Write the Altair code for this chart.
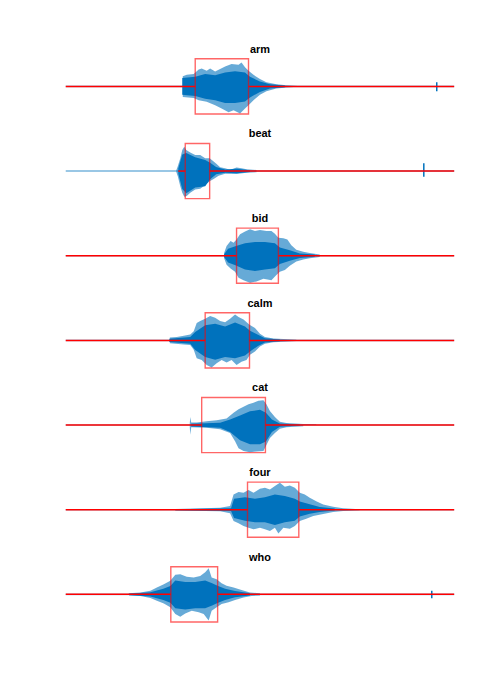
import altair as alt
import pandas as pd

# ---------------- data (time in ms, amplitude normalised to the axis limits) ----------------
CLIP_MS = 780
WORDS = ["arm", "beat", "bid", "calm", "cat", "four", "who"]

ARM_UP_T = [235, 243, 257, 267, 273, 283, 290, 300, 310, 320, 333, 347, 353, 360, 367, 377, 390, 403, 423, 443, 466]
ARM_UP = [.37, .42, .45, .61, .65, .57, .65, .54, .63, .72, .81, .78, .87, .69, .57, .42, .27, .15, .08, .04, .01]
ARM_LO_T = [235, 257, 267, 283, 300, 313, 327, 337, 350, 360, 367, 377, 390, 403, 423, 443, 466]
ARM_LO = [-.38, -.42, -.5, -.56, -.68, -.8, -.94, -.86, -.98, -.8, -.68, -.5, -.3, -.18, -.08, -.04, -.01]
ARM_CORE_T = [234, 260, 280, 300, 320, 340, 360, 370, 390, 410, 440]
ARM_CORE_HI = [.3, .35, .45, .4, .5, .55, .5, .35, .18, .08, .03]
ARM_CORE_LO = [-.3, -.35, -.45, -.5, -.6, -.6, -.55, -.4, -.2, -.08, -.03]

BEAT_UP_T = [222, 225, 230, 234, 238, 242, 250, 260, 270, 280, 289, 297, 303, 310, 320, 330, 343, 353, 363, 383]
BEAT_UP = [.03, .17, .46, .76, .88, .76, .67, .58, .58, .46, .46, .35, .26, .14, .1, .05, .13, .1, .07, .04]
BEAT_LO_T = [222, 225, 230, 234, 238, 243, 250, 260, 270, 277, 289, 297, 307, 320, 343, 363, 383]
BEAT_LO = [-.03, -.19, -.55, -.79, -.93, -.9, -.79, -.67, -.64, -.55, -.37, -.29, -.17, -.1, -.11, -.06, -.04]
BEAT_CORE_T = [226, 234, 242, 260, 280, 290, 302, 320, 344, 370]
BEAT_CORE_HI = [.1, .6, .65, .5, .4, .3, .15, .06, .08, .03]
BEAT_CORE_LO = [-.1, -.65, -.8, -.6, -.55, -.3, -.12, -.06, -.08, -.03]

BID_UP_T = [318, 323, 331, 337, 343, 350, 360, 370, 380, 390, 403, 413, 420, 427, 437, 445, 453, 463, 477, 490, 510]
BID_UP = [.1, .35, .53, .47, .59, .78, .88, .96, .9, .93, .9, .9, .8, .65, .63, .59, .38, .22, .14, .1, .04]
BID_LO_T = [318, 323, 331, 340, 347, 357, 370, 383, 397, 413, 423, 430, 440, 450, 463, 477, 490, 510]
BID_LO = [-.09, -.33, -.46, -.58, -.8, -.89, -.98, -.93, -.83, -.89, -.7, -.58, -.52, -.36, -.21, -.14, -.09, -.05]
BID_CORE_T = [318, 326, 342, 360, 380, 400, 420, 430, 450, 470, 500]
BID_CORE_HI = [.05, .25, .35, .45, .5, .5, .45, .3, .2, .08, .04]
BID_CORE_LO = [-.05, -.25, -.35, -.5, -.55, -.5, -.45, -.3, -.18, -.08, -.04]

CALM_UP_T = [209, 223, 237, 250, 257, 263, 270, 280, 290, 300, 310, 320, 330, 340, 347, 357, 369, 380, 390, 400, 417, 437, 463]
CALM_UP = [.1, .12, .17, .21, .33, .63, .7, .78, .88, .82, .7, .66, .78, .94, .85, .76, .57, .45, .24, .12, .07, .05, .02]
CALM_LO_T = [209, 237, 250, 257, 263, 273, 283, 293, 303, 313, 323, 333, 343, 353, 363, 370, 380, 390, 400, 417, 437, 463]
CALM_LO = [-.1, -.15, -.17, -.34, -.65, -.71, -.89, -.98, -.83, -.71, -.8, -.71, -.89, -.77, -.71, -.52, -.4, -.22, -.12, -.07, -.05, -.02]
CALM_CORE_T = [208, 250, 260, 280, 300, 320, 340, 360, 370, 386, 400, 430]
CALM_CORE_HI = [.06, .12, .3, .55, .6, .5, .65, .5, .35, .2, .08, .03]
CALM_CORE_LO = [-.06, -.12, -.35, -.6, -.7, -.6, -.65, -.55, -.4, -.2, -.08, -.03]

CAT_UP_T = [249, 250, 252, 263, 283, 303, 323, 337, 347, 357, 367, 377, 387, 397, 403, 410, 420, 430, 443, 477, 503]
CAT_UP = [.05, .29, .09, .09, .14, .17, .24, .45, .57, .66, .75, .81, .88, .9, .75, .51, .29, .12, .07, .04, .03]
CAT_LO_T = [249, 250, 252, 283, 310, 330, 340, 347, 357, 370, 383, 397, 403, 410, 420, 430, 443, 477]
CAT_LO = [-.05, -.35, -.08, -.1, -.15, -.29, -.59, -.84, -.94, -.99, -.96, -.94, -.72, -.47, -.29, -.13, -.08, -.04]
CAT_CORE_T = [252, 310, 330, 350, 370, 390, 402, 414, 430, 470]
CAT_CORE_HI = [.05, .08, .2, .35, .5, .55, .45, .2, .06, .02]
CAT_CORE_LO = [-.05, -.1, -.25, -.55, -.7, -.7, -.6, -.25, -.06, -.02]

FOUR_UP_T = [220, 310, 330, 337, 347, 357, 367, 377, 390, 400, 410, 420, 430, 440, 450, 460, 470, 480, 490, 503, 517, 537, 557, 590]
FOUR_UP = [.03, .07, .13, .55, .64, .61, .71, .61, .76, .8, .73, .86, .98, .83, .88, .8, .61, .55, .43, .31, .19, .11, .05, .02]
FOUR_LO_T = [220, 310, 330, 337, 347, 357, 367, 377, 390, 400, 410, 420, 427, 437, 450, 460, 470, 483, 497, 517, 537, 557, 590]
FOUR_LO = [-.03, -.06, -.13, -.41, -.49, -.59, -.65, -.71, -.65, -.71, -.77, -.65, -.86, -.65, -.69, -.59, -.41, -.33, -.23, -.16, -.08, -.05, -.02]
FOUR_CORE_T = [220, 332, 338, 360, 380, 400, 420, 440, 460, 470, 490, 510, 540]
FOUR_CORE_HI = [.02, .05, .4, .45, .4, .45, .55, .5, .4, .3, .2, .1, .04]
FOUR_CORE_LO = [-.02, -.05, -.3, -.4, -.45, -.45, -.55, -.45, -.4, -.25, -.15, -.08, -.03]

WHO_UP_T = [127, 150, 170, 183, 197, 210, 220, 230, 243, 257, 270, 280, 287, 293, 303, 313, 323, 337, 353, 370, 390]
WHO_UP = [.04, .07, .13, .25, .37, .49, .71, .73, .64, .61, .67, .8, .95, .61, .55, .4, .31, .25, .16, .07, .04]
WHO_LO_T = [127, 150, 170, 183, 197, 210, 220, 230, 240, 253, 267, 277, 287, 293, 303, 313, 327, 340, 357, 373, 390]
WHO_LO = [-.04, -.06, -.13, -.23, -.33, -.47, -.71, -.81, -.69, -.59, -.65, -.71, -.95, -.59, -.47, -.35, -.29, -.2, -.11, -.06, -.04]
WHO_CORE_T = [126, 170, 196, 210, 220, 240, 260, 280, 294, 306, 320, 340, 370]
WHO_CORE_HI = [.02, .08, .2, .3, .5, .45, .45, .5, .4, .3, .2, .12, .04]
WHO_CORE_LO = [-.02, -.08, -.2, -.3, -.5, -.55, -.5, -.5, -.4, -.3, -.2, -.1, -.04]

# detected speech segment (red box) per word
BOX_START = [260, 240, 343, 280, 273, 365, 211]
BOX_END = [367, 289, 427, 369, 401, 468, 305]
# red "silence" marker starts here on the left (ends at the box), and resumes after the box
RED_LEFT_FROM = [0, 226, 0, 0, 0, 0, 0]
# background noise level per word
NOISE_LEVEL = [.03, .035, .03, .03, .03, .03, .03]
# isolated clicks
SPIKE_WORD = ["arm", "beat", "who"]
SPIKE_T = [745, 719, 735]
SPIKE_HI = [.15, .28, .13]
SPIKE_LO = [-.18, -.21, -.14]

SERIES = {
    "arm": (ARM_UP_T, ARM_UP, ARM_LO_T, ARM_LO, ARM_CORE_T, ARM_CORE_HI, ARM_CORE_LO),
    "beat": (BEAT_UP_T, BEAT_UP, BEAT_LO_T, BEAT_LO, BEAT_CORE_T, BEAT_CORE_HI, BEAT_CORE_LO),
    "bid": (BID_UP_T, BID_UP, BID_LO_T, BID_LO, BID_CORE_T, BID_CORE_HI, BID_CORE_LO),
    "calm": (CALM_UP_T, CALM_UP, CALM_LO_T, CALM_LO, CALM_CORE_T, CALM_CORE_HI, CALM_CORE_LO),
    "cat": (CAT_UP_T, CAT_UP, CAT_LO_T, CAT_LO, CAT_CORE_T, CAT_CORE_HI, CAT_CORE_LO),
    "four": (FOUR_UP_T, FOUR_UP, FOUR_LO_T, FOUR_LO, FOUR_CORE_T, FOUR_CORE_HI, FOUR_CORE_LO),
    "who": (WHO_UP_T, WHO_UP, WHO_LO_T, WHO_LO, WHO_CORE_T, WHO_CORE_HI, WHO_CORE_LO),
}

# ---------------- styling ----------------
BLUE = "#0072BD"
RED = "#FF0000"
FONT = "Liberation Sans"
PANEL_H = 84.9
YLIM = 1.532  # panel spans a bit more than the axes so the title fits above

XS = alt.Scale(domain=[0, CLIP_MS], nice=False, zero=False)
YS = alt.Scale(domain=[-YLIM, YLIM], nice=False, zero=False)


def X(field):
    return alt.X(field, type="quantitative", scale=XS, axis=None)


def Y(field):
    return alt.Y(field, type="quantitative", scale=YS, axis=None)


def panel(i, word):
    up_t, up, lo_t, lo, core_t, core_hi, core_lo = SERIES[word]
    n = NOISE_LEVEL[i]
    layers = []

    noise = pd.DataFrame({"t": [0, CLIP_MS], "hi": [n, n], "lo": [-n, -n]})
    layers.append(alt.Chart(noise).mark_area(color=BLUE, opacity=0.4).encode(
        x=X("t"), y=Y("hi"), y2="lo"))

    up_df = pd.DataFrame({"t": up_t, "v": up, "z": 0.0})
    layers.append(alt.Chart(up_df).mark_area(color=BLUE, opacity=0.6).encode(
        x=X("t"), y=Y("v"), y2="z"))
    lo_df = pd.DataFrame({"t": lo_t, "v": lo, "z": 0.0})
    layers.append(alt.Chart(lo_df).mark_area(color=BLUE, opacity=0.6).encode(
        x=X("t"), y=Y("v"), y2="z"))

    core_df = pd.DataFrame({"t": core_t, "hi": core_hi, "lo": core_lo})
    layers.append(alt.Chart(core_df).mark_area(color=BLUE, opacity=1).encode(
        x=X("t"), y=Y("hi"), y2="lo"))

    if word in SPIKE_WORD:
        k = SPIKE_WORD.index(word)
        sp = pd.DataFrame({"t": [SPIKE_T[k]], "hi": [SPIKE_HI[k]], "lo": [SPIKE_LO[k]]})
        layers.append(alt.Chart(sp).mark_rule(color=BLUE, strokeWidth=1.5).encode(
            x=X("t"), y=Y("hi"), y2="lo"))

    red = pd.DataFrame({"a": [RED_LEFT_FROM[i], BOX_END[i]],
                        "b": [BOX_START[i], CLIP_MS], "z": [0.0, 0.0]})
    layers.append(alt.Chart(red).mark_rule(color=RED, strokeWidth=1.5).encode(
        x=X("a"), x2="b", y=Y("z")))

    box = pd.DataFrame({"a": [BOX_START[i]], "b": [BOX_END[i]], "top": [1.0], "bot": [-1.0]})
    layers.append(alt.Chart(box).mark_rect(fillOpacity=0, stroke=RED, strokeOpacity=0.6,
                                           strokeWidth=1.4).encode(
        x=X("a"), x2="b", y=Y("top"), y2="bot"))

    ttl = pd.DataFrame({"w": [word]})
    layers.append(alt.Chart(ttl).mark_text(font=FONT, fontSize=11, fontWeight="bold",
                                           color="black", baseline="middle").encode(
        x=alt.value(195), y=alt.value(5.5), text="w:N"))

    return alt.layer(*layers).properties(width=390, height=PANEL_H)


chart = alt.vconcat(*[panel(i, w) for i, w in enumerate(WORDS)], spacing=0,
                    bounds="flush").properties(
    padding={"left": 65, "top": 42, "right": 45, "bottom": 10},
    background="white",
).configure_view(stroke=None)

chart.save("out.html", embed_options={"renderer": "svg", "actions": False})
